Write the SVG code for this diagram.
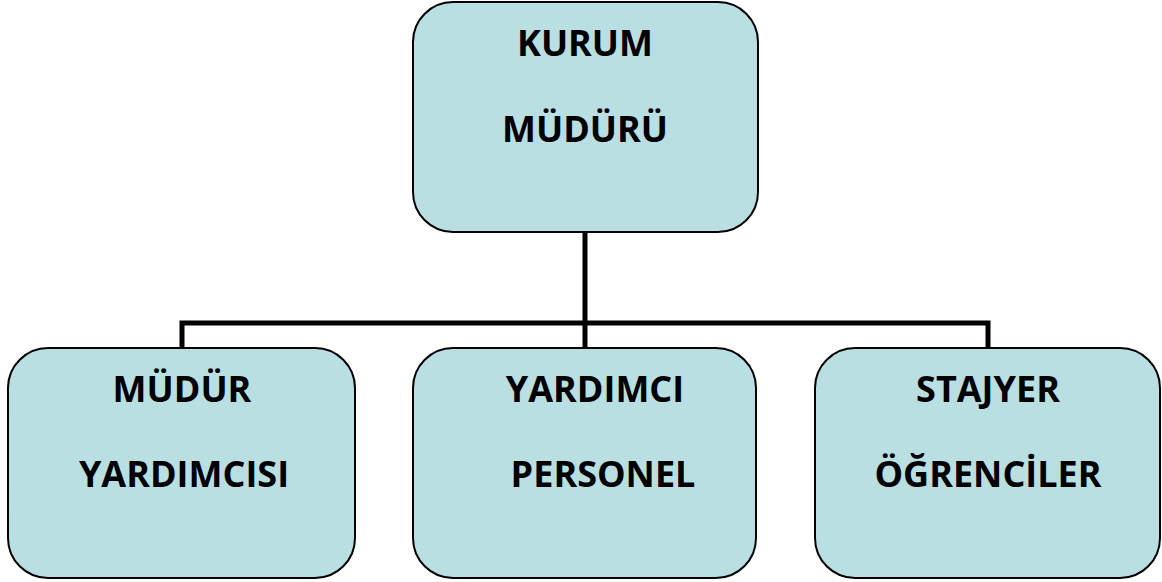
<svg xmlns="http://www.w3.org/2000/svg" width="1162" height="582" viewBox="0 0 1162 582">
<style>
.box{fill:#b9dfe3;stroke:#000;stroke-width:2}
.t{font-family:"Open Sans","Liberation Sans",sans-serif;font-weight:bold;font-size:36px;fill:#000;text-anchor:middle}
.c{fill:none;stroke:#000;stroke-width:5}
</style>
<rect width="1162" height="582" fill="#fff"/>
<g id="connectors">
<line class="c" x1="585" y1="232" x2="585" y2="348"/>
<polyline class="c" points="182,348 182,323 988,323 988,348"/>
</g>
<g id="kurum-muduru">
<rect class="box" x="413" y="2" width="345" height="230" rx="40"/>
<text class="t" x="585" y="56">KURUM</text>
<text class="t" x="585" y="142">MÜDÜRÜ</text>
</g>
<g id="mudur-yardimcisi">
<rect class="box" x="8" y="348" width="347" height="230" rx="40"/>
<text class="t" x="182" y="402">MÜDÜR</text>
<text class="t" x="184" y="487">YARDIMCISI</text>
</g>
<g id="yardimci-personel">
<rect class="box" x="413" y="348" width="343" height="230" rx="40"/>
<text class="t" x="595" y="402">YARDIMCI</text>
<text class="t" x="603" y="487">PERSONEL</text>
</g>
<g id="stajyer-ogrenciler">
<rect class="box" x="815" y="348" width="345" height="230" rx="40"/>
<text class="t" x="988" y="402">STAJYER</text>
<text class="t" x="988" y="487">ÖĞRENCİLER</text>
</g>
</svg>
